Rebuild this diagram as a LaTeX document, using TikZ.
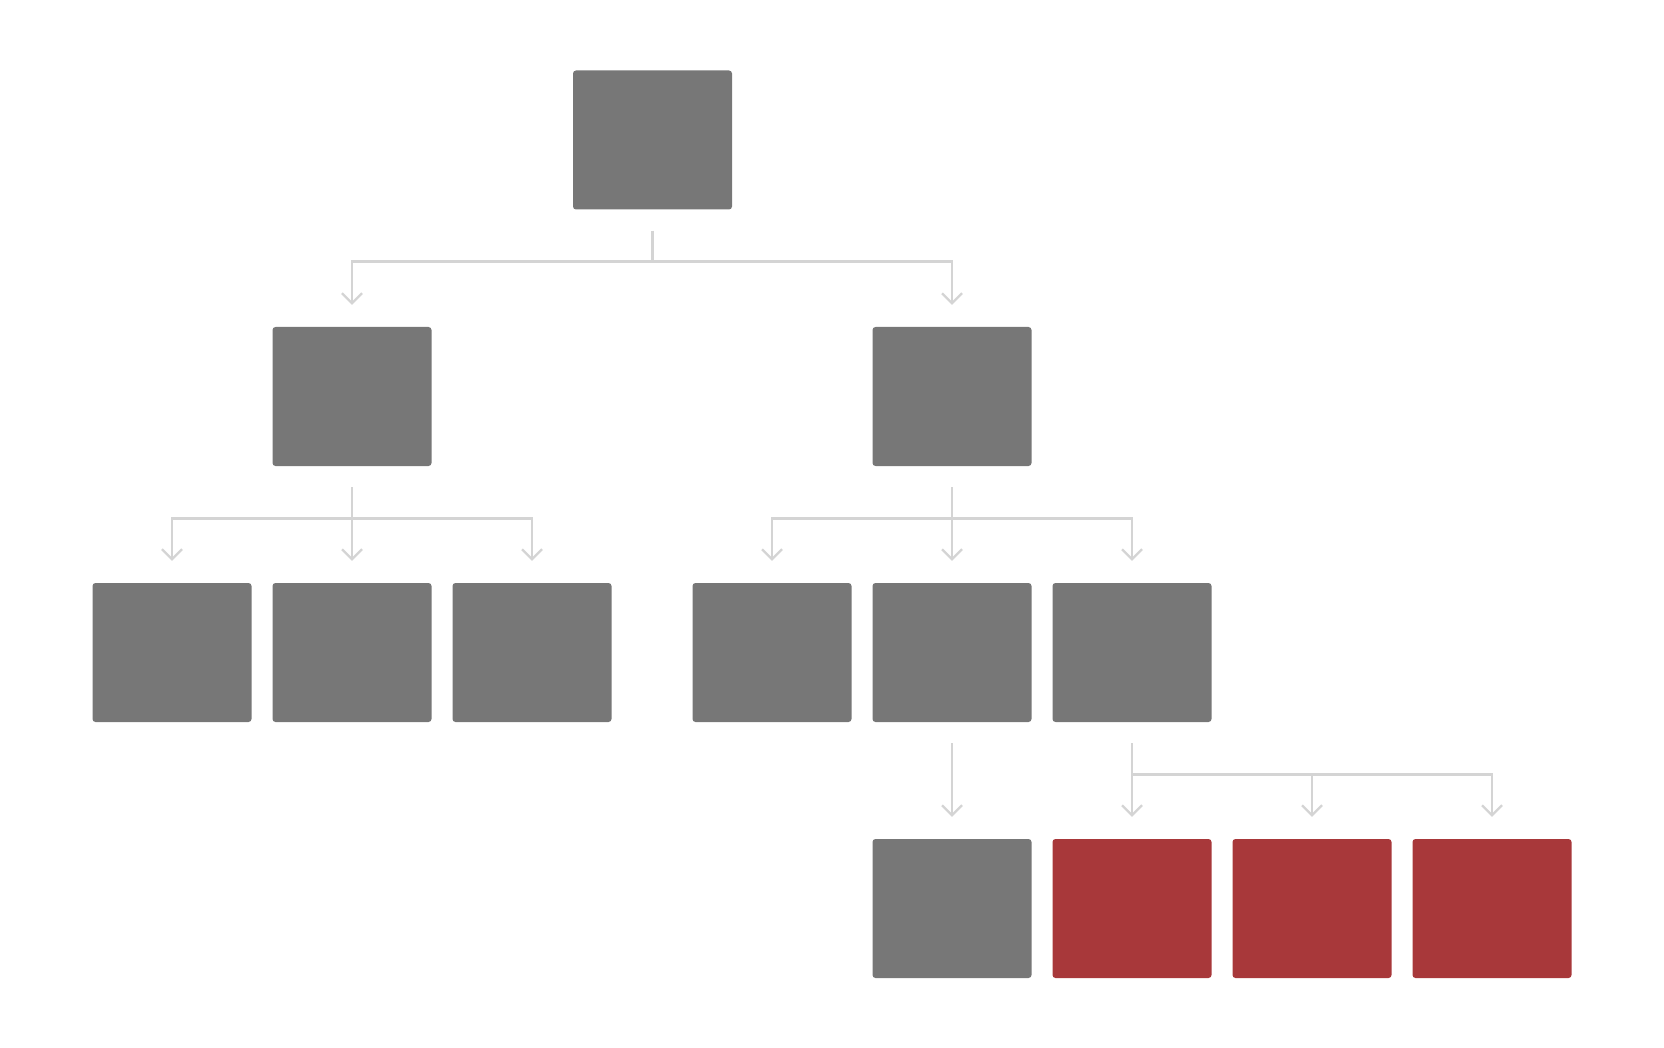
\documentclass[tikz,border=0pt]{standalone}
\usetikzlibrary{arrows.meta}
\definecolor{boxgray}{HTML}{777777}
\definecolor{boxred}{HTML}{A8383A}
\definecolor{linkgray}{HTML}{D4D4D4}
\begin{document}
\begin{tikzpicture}
        [x=1pt,y=1pt,
         box/.style={fill=boxgray,rounded corners=3pt,minimum width=159pt,minimum height=139pt,inner sep=0pt},
         hit/.style={box,fill=boxred},
         link/.style={draw=linkgray,line width=2.6pt},
         linkto/.style={link,-{Straight Barb[length=10pt,width=20pt,line width=2.2pt]}}]
        \useasboundingbox (0,0) rectangle (1664,-1048);
        % level 1
        \node[box] (R) at (652.5,-140) {};
        % level 2
        \node[box] (L) at (352,-396.5) {};
        \node[box] (M) at (952,-396.5) {};
        % level 3
        \node[box] (L1) at (172,-652.5) {};
        \node[box] (L2) at (352,-652.5) {};
        \node[box] (L3) at (532,-652.5) {};
        \node[box] (M1) at (772,-652.5) {};
        \node[box] (M2) at (952,-652.5) {};
        \node[box] (M3) at (1132,-652.5) {};
        % level 4
        \node[box] (N) at (952,-908.5) {};
        \node[hit] (H1) at (1132,-908.5) {};
        \node[hit] (H2) at (1312,-908.5) {};
        \node[hit] (H3) at (1492,-908.5) {};
        % links
        \draw[link] ([yshift=-21pt]R.south) -- ([yshift=-52pt]R.south);
        \draw[linkto] ([yshift=-52pt]R.south) -| ([yshift=22pt]L.north);
        \draw[linkto] ([yshift=-52pt]R.south) -| ([yshift=22pt]M.north);
        \draw[link] ([yshift=-21pt]L.south) -- ([yshift=-52pt]L.south);
        \draw[linkto] ([yshift=-52pt]L.south) -| ([yshift=22pt]L1.north);
        \draw[linkto] ([yshift=-52pt]L.south) -- ([yshift=22pt]L2.north);
        \draw[linkto] ([yshift=-52pt]L.south) -| ([yshift=22pt]L3.north);
        \draw[link] ([yshift=-21pt]M.south) -- ([yshift=-52pt]M.south);
        \draw[linkto] ([yshift=-52pt]M.south) -| ([yshift=22pt]M1.north);
        \draw[linkto] ([yshift=-52pt]M.south) -- ([yshift=22pt]M2.north);
        \draw[linkto] ([yshift=-52pt]M.south) -| ([yshift=22pt]M3.north);
        \draw[linkto] ([yshift=-21pt]M2.south) -- ([yshift=22pt]N.north);
        \draw[linkto] ([yshift=-21pt]M3.south) -- ([yshift=22pt]H1.north);
        \draw[linkto] ([yshift=-52pt]M3.south) -| ([yshift=22pt]H2.north);
        \draw[linkto] ([yshift=-52pt]M3.south) -| ([yshift=22pt]H3.north);
    \end{tikzpicture}
\end{document}
